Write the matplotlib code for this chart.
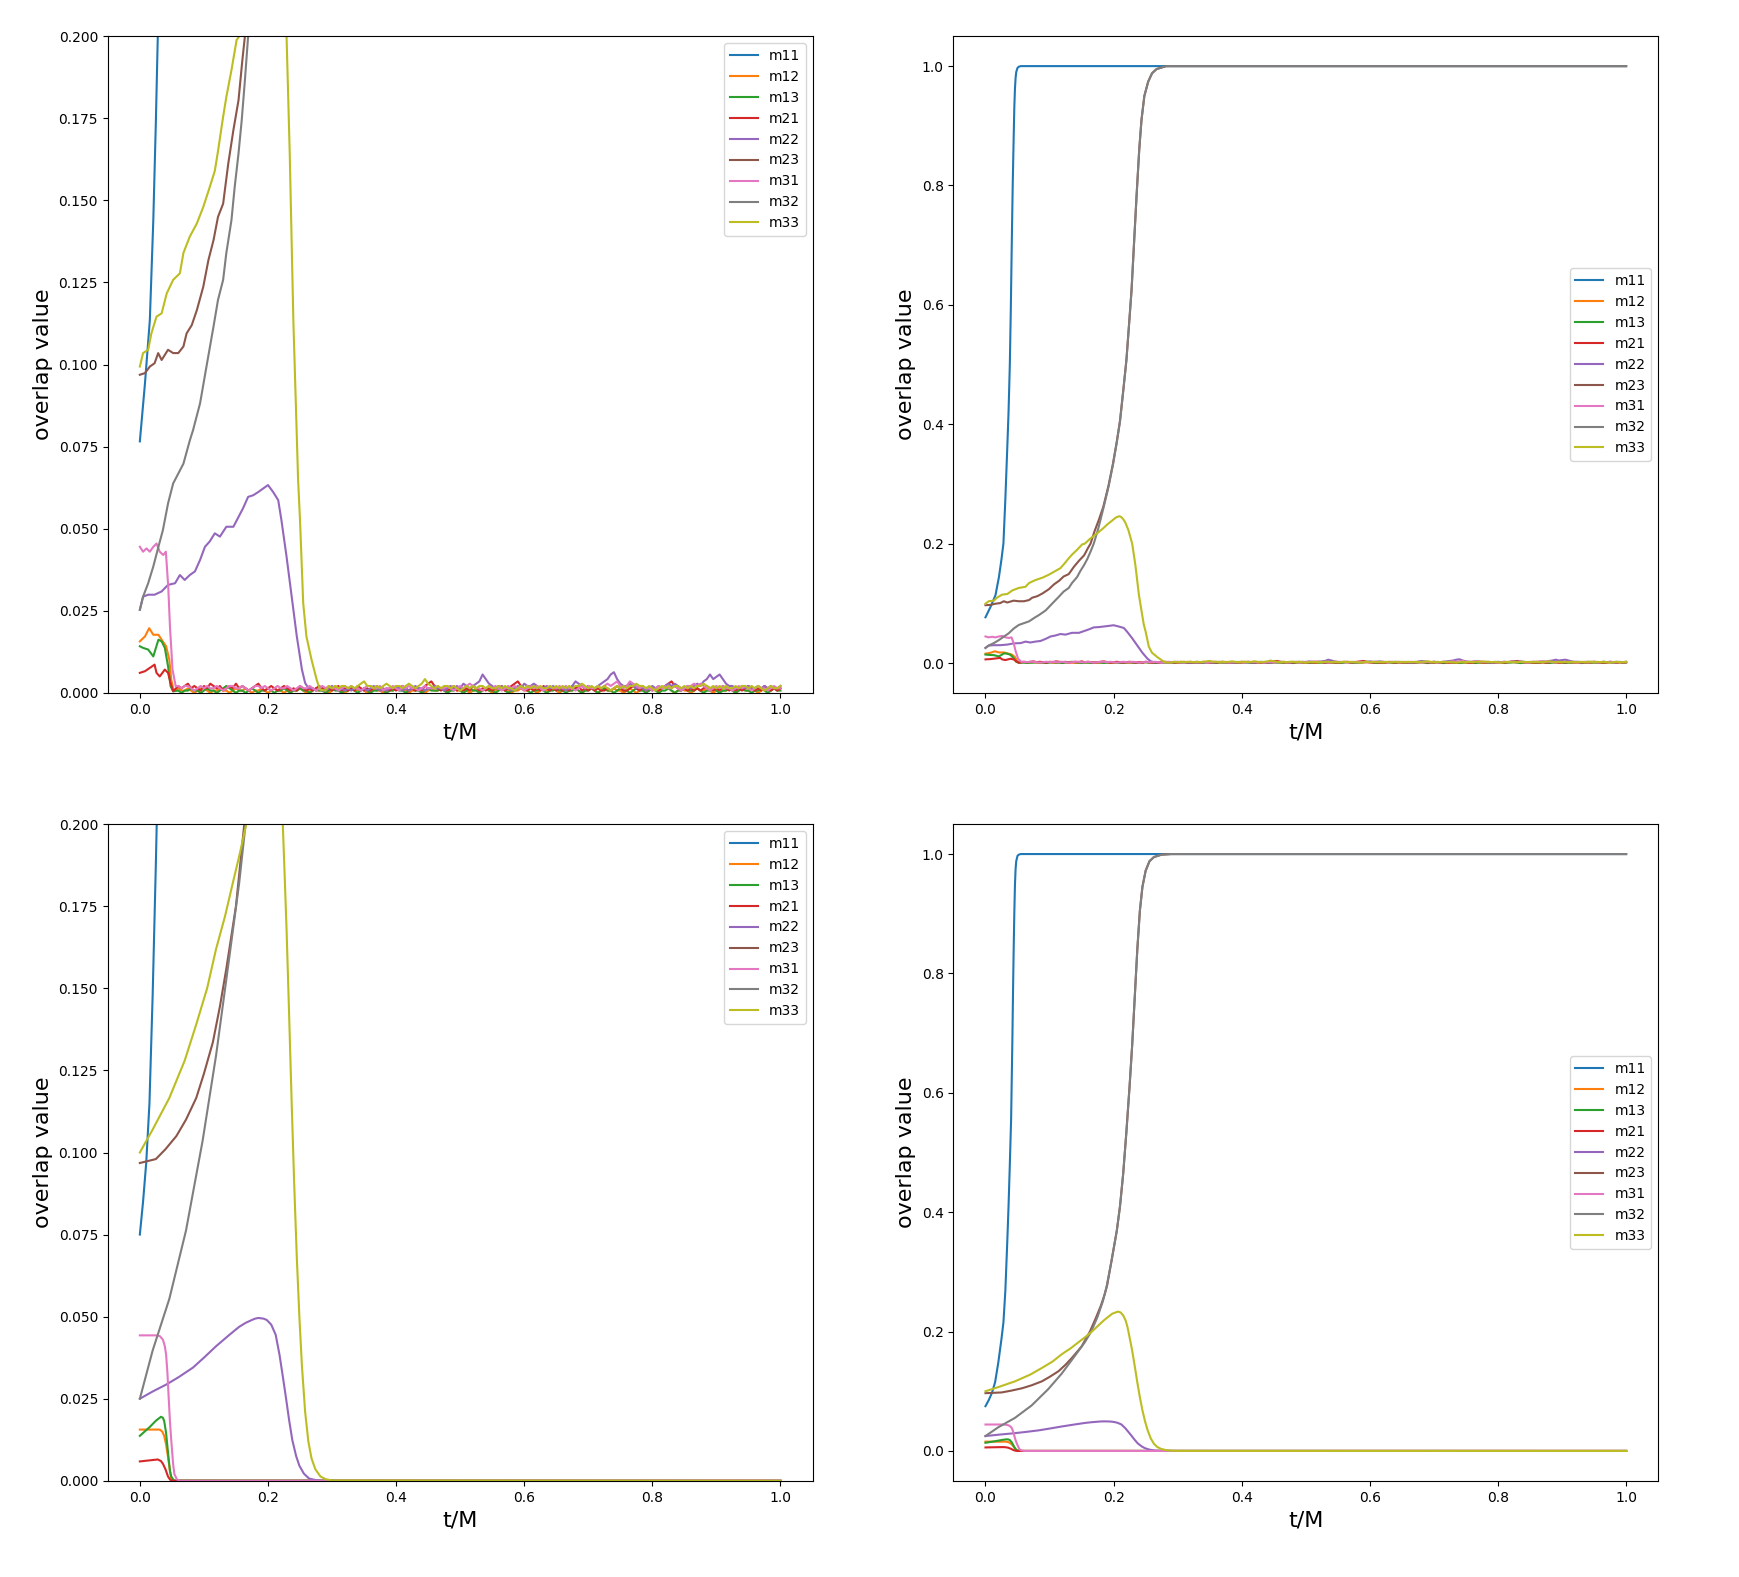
import numpy as np
import matplotlib
matplotlib.use('Agg')
import matplotlib.pyplot as plt

labels = ['m11', 'm12', 'm13', 'm21', 'm22', 'm23', 'm31', 'm32', 'm33']

# ---- simulation (top row) ----
sim_t_m11 = [0, 0.008, 0.0156, 0.021, 0.025, 0.028, 0.031, 0.034, 0.036, 0.038, 0.0395, 0.041, 0.0425,
             0.044, 0.045, 0.046, 0.047, 0.048, 0.05, 0.052, 0.055, 1.0]
sim_m11 = [0.0766, 0.0943, 0.1136, 0.144, 0.174, 0.2, 0.274, 0.36, 0.42, 0.5, 0.59, 0.7, 0.8,
           0.88, 0.93, 0.962, 0.98, 0.99, 0.997, 0.999, 1.0, 1.0]

sim_t_m12 = [0, 0.008, 0.0146, 0.021, 0.029, 0.034, 0.041, 0.046, 0.049, 0.053]
sim_m12 = [0.0157, 0.0172, 0.0197, 0.0177, 0.0177, 0.0162, 0.0142, 0.0101, 0.004, 0.0005]

sim_t_m13 = [0, 0.005, 0.013, 0.021, 0.029, 0.034, 0.039, 0.044, 0.048, 0.052]
sim_m13 = [0.0142, 0.0137, 0.0132, 0.0111, 0.0162, 0.0157, 0.0137, 0.0081, 0.002, 0.0005]

sim_t_m21 = [0, 0.008, 0.0156, 0.023, 0.026, 0.031, 0.039, 0.044, 0.048, 0.052]
sim_m21 = [0.0061, 0.0066, 0.0076, 0.0086, 0.0061, 0.005, 0.0071, 0.0061, 0.003, 0.0005]

sim_t_m22 = [0, 0.005, 0.013, 0.023, 0.034, 0.044, 0.055, 0.0625, 0.07, 0.078, 0.086, 0.094, 0.1016,
             0.109, 0.117, 0.125, 0.135, 0.146, 0.154, 0.161, 0.169, 0.177, 0.185, 0.193, 0.2, 0.208,
             0.216, 0.221, 0.229, 0.237, 0.245, 0.253, 0.258, 0.263]
sim_m22 = [0.0253, 0.0293, 0.0299, 0.0299, 0.0309, 0.0329, 0.0334, 0.0359, 0.0344, 0.0359, 0.037, 0.0405,
           0.0445, 0.0461, 0.0486, 0.0476, 0.0506, 0.0506, 0.0536, 0.0562, 0.0597, 0.0602, 0.0612, 0.0623,
           0.0633, 0.0612, 0.0587, 0.0526, 0.0415, 0.0294, 0.0172, 0.0071, 0.003, 0.0015]

sim_t_m23 = [0, 0.008, 0.0156, 0.023, 0.0286, 0.034, 0.044, 0.052, 0.06, 0.068, 0.073, 0.081, 0.089, 0.099,
             0.107, 0.115, 0.122, 0.13, 0.138, 0.146, 0.154, 0.16, 0.164, 0.17, 0.177, 0.184, 0.192, 0.199,
             0.205, 0.21, 0.215, 0.22, 0.224, 0.228, 0.232, 0.236, 0.24, 0.2435, 0.248, 0.254, 0.26, 0.267,
             0.282, 1.0]
sim_m23 = [0.0969, 0.0974, 0.0994, 0.1004, 0.1035, 0.1014, 0.1045, 0.1035, 0.1035, 0.1055, 0.1095, 0.112,
           0.1166, 0.1237, 0.1318, 0.1379, 0.145, 0.149, 0.1612, 0.1714, 0.1805, 0.1927, 0.2, 0.22, 0.24,
           0.262, 0.297, 0.334, 0.371, 0.406, 0.456, 0.508, 0.566, 0.625, 0.706, 0.786, 0.86, 0.91, 0.95,
           0.974, 0.988, 0.995, 1.0, 1.0]

sim_t_m31 = [0, 0.005, 0.0104, 0.0156, 0.021, 0.026, 0.031, 0.0365, 0.0406, 0.0443, 0.047, 0.051, 0.056]
sim_m31 = [0.0445, 0.043, 0.044, 0.043, 0.0445, 0.0455, 0.043, 0.042, 0.043, 0.0324, 0.0202, 0.0071, 0.002]

sim_t_m32 = [0, 0.005, 0.013, 0.021, 0.029, 0.036, 0.044, 0.052, 0.06, 0.068, 0.078, 0.083, 0.094, 0.104,
             0.115, 0.122, 0.13, 0.135, 0.143, 0.148, 0.154, 0.159, 0.164, 0.169, 0.176, 0.184, 0.192,
             0.199, 0.205, 0.21, 0.215, 0.22, 0.224, 0.228, 0.232, 0.236, 0.24, 0.2435, 0.248, 0.254, 0.26,
             0.267, 0.282, 1.0]
sim_m32 = [0.0253, 0.0293, 0.0334, 0.0385, 0.0445, 0.0496, 0.0577, 0.0638, 0.0668, 0.0698, 0.0769, 0.08,
           0.0882, 0.0994, 0.1116, 0.1197, 0.1258, 0.134, 0.144, 0.154, 0.1643, 0.1744, 0.1866, 0.2, 0.225,
           0.259, 0.295, 0.332, 0.37, 0.405, 0.455, 0.507, 0.565, 0.624, 0.705, 0.785, 0.86, 0.909, 0.95,
           0.974, 0.988, 0.995, 1.0, 1.0]

sim_t_m33 = [0, 0.005, 0.013, 0.018, 0.026, 0.034, 0.042, 0.052, 0.0625, 0.068, 0.078, 0.089, 0.099, 0.109,
             0.117, 0.122, 0.13, 0.135, 0.143, 0.151, 0.155, 0.163, 0.174, 0.184, 0.191, 0.197, 0.202, 0.205,
             0.209, 0.212, 0.215, 0.218, 0.223, 0.229, 0.234, 0.2396, 0.247, 0.25, 0.255, 0.26, 0.268,
             0.276, 0.281]
sim_m33 = [0.0994, 0.1035, 0.1045, 0.1095, 0.1146, 0.1156, 0.1217, 0.1258, 0.1278, 0.134, 0.139, 0.143,
           0.148, 0.154, 0.159, 0.165, 0.1755, 0.1815, 0.1897, 0.1988, 0.2, 0.208, 0.217, 0.226, 0.233,
           0.238, 0.2425, 0.2445, 0.246, 0.2445, 0.241, 0.236, 0.223, 0.2, 0.164, 0.1135, 0.065, 0.0526,
           0.0273, 0.0172, 0.0101, 0.004, 0.001]

# fluctuation floor after the drop, sampled every 0.005 up to t=1, in steps of 0.0007
tail_step = 0.0007
tail_m12 = [2, 1, 1, 2, 1, 0, 1, 2, 2, 1, 0, 1, 1, 2, 1, 1, 0, 1, 2, 1,
            1, 2, 1, 0, 1, 1, 2, 1, 0, 1, 2, 1, 1, 0, 1, 2, 1, 1, 2, 1,
            0, 1, 2, 1, 1, 2, 1, 0, 1, 3, 2, 1, 0, 1, 2, 1, 1, 2, 1, 0,
            1, 2, 1, 1, 0, 1, 2, 1, 2, 3, 2, 1, 0, 1, 1, 2, 1, 0, 1, 2,
            1, 1, 2, 1, 0, 1, 2, 1, 1, 2, 1, 0, 1, 2, 1, 1, 2, 1, 0, 1,
            2, 3, 1, 1, 0, 1, 1, 2, 1, 1, 2, 1, 0, 1, 2, 1, 1, 2, 1, 0,
            1, 2, 1, 1, 2, 1, 0, 1, 3, 2, 1, 0, 1, 2, 1, 1, 2, 1, 1, 0,
            1, 2, 1, 0, 1, 2, 1, 1, 2, 1, 1, 2, 3, 2, 1, 0, 1, 2, 1, 1,
            0, 1, 2, 1, 1, 2, 1, 0, 1, 2, 1, 1, 2, 1, 0, 1, 2, 1, 1, 2,
            1, 0, 1, 2, 1, 1, 2, 1, 2]
tail_m13 = [1, 0, 1, 1, 2, 1, 1, 0, 1, 2, 1, 1, 0, 1, 2, 3, 2, 1, 0, 1,
            1, 0, 1, 2, 1, 0, 1, 1, 2, 1, 0, 1, 1, 2, 1, 0, 1, 1, 2, 1,
            1, 0, 1, 2, 1, 1, 0, 1, 2, 1, 1, 0, 1, 1, 2, 1, 0, 1, 2, 1,
            0, 1, 1, 2, 1, 0, 1, 1, 2, 1, 1, 0, 1, 2, 1, 1, 0, 1, 2, 1,
            1, 1, 2, 1, 0, 1, 1, 2, 1, 0, 1, 2, 1, 1, 0, 1, 2, 1, 1, 0,
            1, 2, 1, 0, 1, 1, 2, 3, 2, 1, 0, 1, 1, 2, 1, 0, 1, 1, 2, 1,
            1, 0, 1, 1, 2, 1, 0, 1, 1, 2, 1, 0, 1, 2, 1, 1, 0, 1, 2, 1,
            1, 0, 1, 2, 1, 1, 0, 1, 2, 1, 0, 1, 1, 2, 1, 0, 1, 1, 2, 1,
            1, 1, 2, 1, 0, 1, 1, 2, 1, 0, 1, 1, 2, 1, 0, 1, 2, 1, 1, 0,
            1, 1, 2, 1, 0, 1, 2, 1, 1]
tail_m21 = [3, 2, 3, 4, 2, 3, 2, 1, 3, 2, 4, 3, 2, 3, 1, 2, 3, 2, 4, 2,
            3, 2, 1, 2, 3, 4, 2, 1, 2, 3, 2, 1, 2, 3, 2, 1, 2, 1, 3, 2,
            1, 2, 1, 2, 3, 2, 1, 2, 1, 2, 3, 1, 2, 1, 2, 1, 3, 2, 1, 2,
            1, 2, 3, 2, 1, 2, 1, 2, 1, 2, 3, 2, 1, 2, 1, 2, 1, 3, 4, 5,
            3, 2, 1, 2, 1, 2, 3, 1, 2, 1, 2, 1, 3, 2, 1, 2, 1, 2, 1, 2,
            3, 2, 1, 2, 3, 4, 5, 3, 2, 1, 2, 1, 2, 1, 3, 2, 1, 2, 1, 2,
            1, 2, 1, 3, 2, 3, 1, 2, 1, 2, 1, 2, 1, 1, 2, 1, 2, 3, 2, 1,
            1, 2, 3, 2, 1, 2, 1, 2, 1, 2, 1, 2, 3, 4, 5, 3, 2, 1, 2, 1,
            2, 1, 2, 1, 2, 3, 2, 1, 2, 1, 3, 2, 1, 2, 1, 2, 1, 2, 3, 2,
            1, 2, 1, 3, 2, 1, 2, 1, 2]
tail_m31 = [3, 2, 3, 3, 2, 1, 2, 3, 2, 3, 2, 2, 3, 2, 1, 2, 3, 3, 2, 2,
            3, 2, 1, 2, 3, 3, 2, 3, 2, 1, 2, 3, 2, 2, 3, 2, 1, 2, 3, 2,
            2, 3, 2, 1, 2, 3, 2, 3, 2, 2, 1, 2, 3, 2, 3, 2, 2, 1, 2, 3,
            3, 2, 2, 3, 1, 2, 2, 3, 2, 1, 3, 2, 3, 2, 2, 1, 2, 3, 2, 2,
            2, 3, 2, 2, 3, 2, 1, 2, 3, 2, 3, 4, 3, 2, 2, 1, 2, 3, 2, 3,
            2, 1, 2, 3, 2, 3, 2, 2, 1, 2, 3, 2, 3, 2, 1, 2, 3, 2, 2, 3,
            2, 3, 2, 2, 1, 2, 3, 2, 3, 2, 2, 3, 2, 3, 4, 3, 4, 5, 3, 2,
            3, 5, 4, 3, 2, 3, 2, 2, 1, 2, 3, 2, 3, 2, 2, 3, 2, 1, 2, 3,
            3, 4, 3, 4, 3, 2, 1, 2, 3, 2, 3, 2, 2, 1, 2, 3, 2, 3, 2, 1,
            2, 3, 2, 2, 1, 2, 3, 2, 2]
tail_m22 = [2, 1, 2, 1, 1, 2, 3, 2, 1, 2, 1, 2, 1, 2, 2, 1, 2, 1,
            2, 3, 2, 1, 2, 1, 2, 2, 3, 2, 1, 2, 1, 2, 3, 2, 2, 1, 2, 2,
            3, 2, 2, 1, 2, 3, 2, 3, 2, 4, 3, 2, 3, 4, 5, 8, 6, 4, 3, 2,
            2, 3, 2, 2, 1, 2, 3, 2, 4, 3, 3, 4, 3, 2, 2, 3, 2, 3, 2, 2,
            2, 1, 2, 3, 5, 4, 3, 2, 3, 2, 2, 3, 4, 5, 6, 8, 9, 6, 4, 3,
            3, 4, 3, 2, 3, 2, 1, 2, 3, 2, 3, 2, 3, 4, 3, 4, 3, 2, 2, 3,
            2, 3, 4, 3, 5, 6, 8, 6, 7, 8, 6, 4, 3, 3, 2, 2, 3, 2, 3, 2,
            2, 3, 2, 3, 2, 3, 2, 2, 3]
tail_m33 = [1, 3, 2, 3, 2, 3, 3, 2, 3, 2, 3, 4, 5, 3,
            3, 2, 3, 2, 3, 4, 3, 2, 3, 3, 2, 3, 4, 3, 2, 3, 4, 6, 4, 3,
            2, 3, 2, 3, 3, 2, 3, 2, 1, 2, 3, 2, 3, 2, 3, 3, 2, 3, 2, 2,
            3, 2, 3, 2, 2, 1, 2, 3, 2, 3, 2, 3, 2, 3, 2, 2, 3, 2, 3, 2,
            3, 2, 3, 2, 3, 3, 4, 3, 2, 3, 2, 3, 2, 3, 2, 1, 2, 3, 2, 3,
            2, 3, 3, 4, 3, 3, 2, 3, 2, 1, 2, 3, 2, 3, 2, 3, 3, 2, 3, 2,
            3, 2, 3, 3, 4, 3, 2, 3, 2, 3, 2, 3, 2, 2, 3, 2, 3, 3, 2, 3,
            2, 3, 2, 1, 2, 3, 2, 2, 3]
tail_t = np.round(0.06 + 0.005 * np.arange(189), 3)

# ---- theory (bottom row) ----
th_t_m11 = [0, 0.005, 0.01, 0.015, 0.02, 0.025, 0.028, 0.031, 0.034, 0.036, 0.038, 0.04, 0.042, 0.043,
            0.044, 0.045, 0.046, 0.047, 0.048, 0.05, 0.052, 0.055, 1.0]
th_m11 = [0.075, 0.085, 0.097, 0.115, 0.148, 0.188, 0.215, 0.268, 0.35, 0.41, 0.48, 0.555, 0.69, 0.77,
          0.84, 0.9, 0.948, 0.975, 0.988, 0.997, 0.999, 1.0, 1.0]

th_t_m12 = [0, 0.031, 0.035, 0.038, 0.041, 0.044, 0.047, 0.049, 0.052, 0.056, 1.0]
th_m12 = [0.0156, 0.0156, 0.015, 0.0137, 0.011, 0.0072, 0.003, 0.0007, 0.0001, 0, 0]

th_t_m13 = [0, 0.015, 0.025, 0.033, 0.036, 0.038, 0.041, 0.044, 0.047, 0.049, 0.053, 1.0]
th_m13 = [0.0137, 0.0163, 0.0183, 0.0195, 0.0192, 0.0182, 0.0145, 0.0085, 0.003, 0.0013, 0.0001, 0]

th_t_m21 = [0, 0.028, 0.033, 0.036, 0.04, 0.044, 0.047, 0.049, 0.053, 1.0]
th_m21 = [0.0059, 0.0065, 0.006, 0.0052, 0.0035, 0.0013, 0.0004, 0.0001, 0, 0]

th_t_m22 = [0, 0.02, 0.041, 0.06, 0.083, 0.1, 0.119, 0.14, 0.155, 0.165, 0.175, 0.18, 0.185, 0.189, 0.193,
            0.198, 0.205, 0.212, 0.218, 0.223, 0.228, 0.233, 0.238, 0.244, 0.249, 0.256, 0.264, 0.275,
            0.285, 1.0]
th_m22 = [0.025, 0.0272, 0.0293, 0.0315, 0.0345, 0.0375, 0.041, 0.0445, 0.0469, 0.0481, 0.049, 0.0494,
          0.0496, 0.0495, 0.0494, 0.049, 0.0476, 0.0445, 0.0384, 0.032, 0.0254, 0.0185, 0.0124, 0.0075,
          0.0046, 0.0022, 0.0007, 0.0002, 0, 0]

th_t_m23 = [0, 0.025, 0.04, 0.057, 0.072, 0.088, 0.1, 0.114, 0.125, 0.135, 0.15, 0.163, 0.172, 0.18, 0.186,
            0.19, 0.197, 0.205, 0.21, 0.215, 0.22, 0.225, 0.229, 0.233, 0.237, 0.241, 0.245, 0.25, 0.256,
            0.263, 0.275, 0.29, 1.0]
th_m23 = [0.0968, 0.098, 0.101, 0.105, 0.11, 0.1166, 0.124, 0.1336, 0.1445, 0.156, 0.175, 0.2, 0.222,
          0.243, 0.262, 0.278, 0.32, 0.369, 0.41, 0.465, 0.535, 0.612, 0.68, 0.76, 0.84, 0.905, 0.945,
          0.972, 0.988, 0.995, 0.999, 1.0, 1.0]

th_t_m31 = [0, 0.025, 0.031, 0.036, 0.039, 0.041, 0.043, 0.045, 0.047, 0.049, 0.052, 0.054, 0.058, 0.062, 1.0]
th_m31 = [0.0443, 0.0443, 0.0441, 0.043, 0.041, 0.0384, 0.033, 0.0254, 0.018, 0.0124, 0.005, 0.002, 0.0004, 0, 0]

th_t_m32 = [0, 0.02, 0.046, 0.072, 0.098, 0.119, 0.14, 0.155, 0.165, 0.175, 0.183, 0.189, 0.197, 0.205,
            0.21, 0.215, 0.22, 0.225, 0.229, 0.233, 0.237, 0.241, 0.245, 0.25, 0.256, 0.263, 0.275, 0.29, 1.0]
th_m32 = [0.025, 0.0397, 0.0554, 0.0762, 0.1036, 0.1296, 0.16, 0.182, 0.2, 0.225, 0.25, 0.275, 0.32, 0.369,
          0.41, 0.465, 0.535, 0.612, 0.68, 0.76, 0.84, 0.905, 0.945, 0.972, 0.988, 0.995, 0.999, 1.0, 1.0]

th_t_m33 = [0, 0.02, 0.046, 0.07, 0.088, 0.105, 0.119, 0.133, 0.145, 0.156, 0.166, 0.176, 0.185, 0.192,
            0.198, 0.203, 0.207, 0.211, 0.215, 0.219, 0.222, 0.225, 0.229, 0.233, 0.237, 0.241, 0.245,
            0.249, 0.253, 0.258, 0.263, 0.268, 0.274, 0.282, 0.29, 0.3, 1.0]
th_m33 = [0.1, 0.107, 0.1166, 0.128, 0.139, 0.15, 0.162, 0.172, 0.182, 0.191, 0.2, 0.21, 0.219, 0.225,
          0.23, 0.232, 0.2335, 0.232, 0.227, 0.218, 0.206, 0.19, 0.168, 0.142, 0.115, 0.09, 0.068, 0.05,
          0.035, 0.021, 0.012, 0.0068, 0.0035, 0.0013, 0.0005, 0.0001, 0]


def with_tail(t, v, tail):
    tt = tail_t[-len(tail):]
    return np.concatenate([t, tt]), np.concatenate([v, np.array(tail) * tail_step])


sim = [
    (sim_t_m11, sim_m11),
    with_tail(sim_t_m12, sim_m12, tail_m12),
    with_tail(sim_t_m13, sim_m13, tail_m13),
    with_tail(sim_t_m21, sim_m21, tail_m21),
    with_tail(sim_t_m22, sim_m22, tail_m22),
    (sim_t_m23, sim_m23),
    with_tail(sim_t_m31, sim_m31, tail_m31),
    (sim_t_m32, sim_m32),
    with_tail(sim_t_m33, sim_m33, tail_m33),
]
theory = [
    (th_t_m11, th_m11), (th_t_m12, th_m12), (th_t_m13, th_m13),
    (th_t_m21, th_m21), (th_t_m22, th_m22), (th_t_m23, th_m23),
    (th_t_m31, th_m31), (th_t_m32, th_m32), (th_t_m33, th_m33),
]

fig, axes = plt.subplots(2, 2, figsize=(17.39, 15.77), dpi=100)
fig.subplots_adjust(left=0.062, right=0.9535, bottom=0.061, top=0.977, wspace=0.2, hspace=0.2)

for row, data in enumerate([sim, theory]):
    for col in range(2):
        ax = axes[row][col]
        for lab, (t, v) in zip(labels, data):
            ax.plot(t, v, label=lab)
        if col == 0:
            ax.set_ylim(0, 0.2)
            ax.legend(loc='upper right')
        else:
            ax.legend(loc='center right')
        ax.set_xlabel('t/M', fontsize=16)
        ax.set_ylabel('overlap value', fontsize=16)

plt.savefig('out.png')
